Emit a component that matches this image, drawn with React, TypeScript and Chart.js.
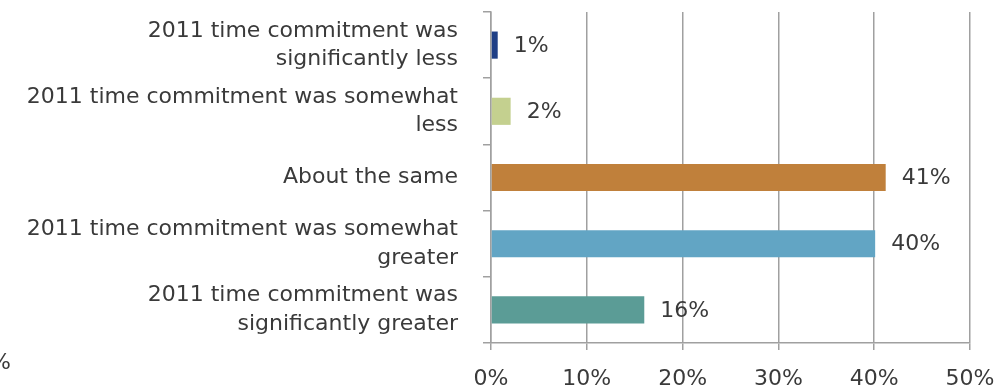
import React, { useEffect, useRef } from "react";
import { Chart, registerables } from "chart.js";

Chart.register(...registerables);

const categories: string[][] = [
  ["2011 time commitment was", "significantly less"],
  ["2011 time commitment was somewhat", "less"],
  ["About the same"],
  ["2011 time commitment was somewhat", "greater"],
  ["2011 time commitment was", "significantly greater"],
];
const values: number[] = [0.7, 2.05, 41.2, 40.1, 16.0];
const valueLabels: string[] = ["1%", "2%", "41%", "40%", "16%"];
const barColors: string[] = ["#1F3F86", "#C4D08F", "#C0803B", "#62A5C4", "#5B9C96"];
const xTicks: number[] = [0, 10, 20, 30, 40, 50];

const FONT = '"DejaVu Sans", "Liberation Sans", Arial, sans-serif';
const TEXT = "#3a3a3a";
const GRID = "#a0a0a0";

export default function App() {
  const ref = useRef<HTMLCanvasElement | null>(null);
  useEffect(() => {
    if (!ref.current) return;
    const labelPlugin = {
      id: "valueLabels",
      afterDatasetsDraw(chart: any) {
        const ctx = chart.ctx;
        const meta = chart.getDatasetMeta(0);
        ctx.save();
        ctx.font = `22px ${FONT}`;
        ctx.fillStyle = TEXT;
        ctx.textBaseline = "middle";
        ctx.textAlign = "left";
        meta.data.forEach((bar: any, i: number) => {
          ctx.fillText(valueLabels[i], bar.x + 16, bar.y + 1);
        });
        // cut-off label at the far left edge
        ctx.textAlign = "right";
        ctx.fillText("0%", 11, 363);
        ctx.restore();
      },
    };
    const chart = new Chart(ref.current, {
      type: "bar",
      data: {
        labels: categories,
        datasets: [
          {
            data: values,
            backgroundColor: barColors,
            borderWidth: 0,
            barPercentage: 1,
            categoryPercentage: 0.41,
          },
        ],
      },
      options: {
        indexAxis: "y",
        animation: false,
        responsive: true,
        maintainAspectRatio: false,
        layout: { padding: { left: 0, right: 27, top: 12, bottom: 0 } },
        plugins: {
          legend: { display: false },
          tooltip: { enabled: false },
        },
        scales: {
          x: {
            min: 0,
            max: 50,
            afterFit: (s: any) => {
              s.height = 45;
              s.paddingLeft = 0;
              s.paddingRight = 0;
            },
            afterBuildTicks: (s: any) => {
              s.ticks = xTicks.map((v) => ({ value: v }));
            },
            grid: {
              color: GRID,
              lineWidth: 1.5,
              tickLength: 7,
              drawTicks: true,
            },
            border: { color: GRID, width: 1.5 },
            ticks: {
              color: TEXT,
              font: { family: FONT, size: 22 },
              padding: 16,
              callback: (v: any) => `${v}%`,
              maxRotation: 0,
            },
          },
          y: {
            afterFit: (s: any) => {
              s.width = 491;
              s.paddingTop = 0;
              s.paddingBottom = 0;
            },
            grid: {
              drawOnChartArea: false,
              drawTicks: true,
              tickLength: 8,
              color: GRID,
              lineWidth: 1.5,
              offset: true,
            },
            border: { color: GRID, width: 1.5 },
            ticks: {
              color: TEXT,
              font: { family: FONT, size: 22, lineHeight: 1.3 },
              padding: 25,
              autoSkip: false,
            },
          },
        },
      },
      plugins: [labelPlugin],
    });
    return () => chart.destroy();
  }, []);
  return (
    <div style={{ position: "fixed", left: 0, top: 0, width: 997, height: 388, background: "#fff" }}>
      <canvas ref={ref} />
    </div>
  );
}
